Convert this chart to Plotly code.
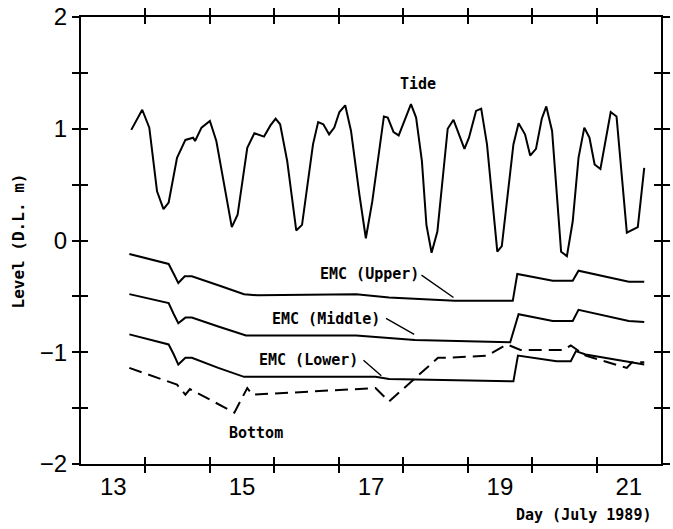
import plotly.graph_objects as go

# ---- data (day of July 1989, level in D.L. m) ----
tide_x = [13.78, 13.95, 14.06, 14.18, 14.28, 14.36, 14.49, 14.62, 14.74, 14.77, 14.87, 15.00,
          15.10, 15.23, 15.34, 15.43, 15.58, 15.69, 15.84, 15.94, 16.02, 16.09, 16.20, 16.34,
          16.43, 16.60, 16.68, 16.76, 16.85, 16.93, 17.01, 17.10, 17.19, 17.32, 17.42, 17.52,
          17.70, 17.76, 17.85, 17.93, 18.03, 18.12, 18.20, 18.29, 18.36, 18.44, 18.53, 18.69,
          18.78, 18.95, 19.02, 19.13, 19.21, 19.30, 19.46, 19.53, 19.71, 19.79, 19.89, 19.97,
          20.06, 20.15, 20.22, 20.31, 20.45, 20.54, 20.63, 20.72, 20.81, 20.89, 20.97, 21.06,
          21.22, 21.31, 21.47, 21.64, 21.74]
tide_y = [0.99, 1.17, 1.01, 0.44, 0.28, 0.34, 0.74, 0.90, 0.92, 0.89, 1.01, 1.07,
          0.89, 0.47, 0.12, 0.23, 0.83, 0.96, 0.93, 1.03, 1.09, 1.04, 0.71, 0.09,
          0.14, 0.86, 1.06, 1.04, 0.95, 1.01, 1.15, 1.21, 0.98, 0.41, 0.02, 0.35,
          1.11, 1.10, 0.97, 0.94, 1.09, 1.22, 1.10, 0.71, 0.14, -0.11, 0.08, 1.00,
          1.08, 0.82, 0.92, 1.16, 1.18, 0.86, -0.10, -0.05, 0.86, 1.05, 0.95, 0.76,
          0.82, 1.09, 1.20, 0.98, -0.10, -0.14, 0.17, 0.74, 1.01, 0.92, 0.68, 0.64,
          1.15, 1.11, 0.07, 0.12, 0.65]

upper_x = [13.75, 14.36, 14.44, 14.51, 14.61, 14.72, 15.13, 15.53, 15.74, 17.27, 17.78, 18.80,
           19.70, 19.77, 20.32, 20.63, 20.72, 21.50, 21.74]
upper_y = [-0.12, -0.21, -0.30, -0.38, -0.32, -0.32, -0.40, -0.48, -0.49, -0.48, -0.51, -0.54,
           -0.54, -0.30, -0.36, -0.36, -0.27, -0.37, -0.37]

middle_x = [13.75, 14.36, 14.44, 14.51, 14.62, 14.72, 15.13, 15.56, 17.27, 18.18, 19.66, 19.79,
            20.32, 20.63, 20.72, 21.50, 21.74]
middle_y = [-0.48, -0.56, -0.66, -0.74, -0.69, -0.69, -0.77, -0.85, -0.85, -0.89, -0.91, -0.66,
            -0.72, -0.72, -0.62, -0.72, -0.73]

lower_x = [13.75, 14.36, 14.44, 14.51, 14.62, 14.72, 15.13, 15.53, 17.57, 17.78, 19.71, 19.78,
           20.38, 20.60, 20.68, 20.83, 21.74]
lower_y = [-0.84, -0.93, -1.02, -1.11, -1.05, -1.05, -1.14, -1.22, -1.22, -1.24, -1.26, -1.03,
           -1.08, -1.08, -0.99, -1.02, -1.11]

bottom_x = [13.75, 14.49, 14.62, 14.69, 15.38, 15.58, 15.66, 17.57, 17.78, 18.54, 18.69, 19.30,
            19.61, 19.82, 20.48, 20.60, 20.83, 21.47, 21.55, 21.74]
bottom_y = [-1.14, -1.29, -1.38, -1.33, -1.54, -1.32, -1.38, -1.32, -1.44, -1.05, -1.05, -1.03,
            -0.93, -0.98, -0.98, -0.94, -1.03, -1.14, -1.09, -1.09]

xlabel_pos = [13.5, 15.5, 17.5, 19.5, 21.5]
xlabel_text = ["13", "15", "17", "19", "21"]
xtick_pos = [14, 15, 16, 17, 18, 19, 20, 21]
ytick_pos = [-2, -1.5, -1, -0.5, 0, 0.5, 1, 1.5, 2]
ytick_text = ["\u22122", "", "\u22121", "", "0", "", "1", "", "2"]

MONO = "DejaVu Sans Mono"
SANS = "Liberation Sans, Arial"

fig = go.Figure()
line = dict(color="black", width=2)
fig.add_trace(go.Scatter(x=tide_x, y=tide_y, mode="lines", line=line))
fig.add_trace(go.Scatter(x=upper_x, y=upper_y, mode="lines", line=line))
fig.add_trace(go.Scatter(x=middle_x, y=middle_y, mode="lines", line=line))
fig.add_trace(go.Scatter(x=lower_x, y=lower_y, mode="lines", line=line))
fig.add_trace(go.Scatter(x=bottom_x, y=bottom_y, mode="lines",
                         line=dict(color="black", width=2, dash="13px,7px")))
# empty traces to carry the tick-only overlay axes
fig.add_trace(go.Scatter(x=[None], y=[None], xaxis="x2", yaxis="y2", hoverinfo="skip"))
fig.add_trace(go.Scatter(x=[None], y=[None], xaxis="x3", yaxis="y2", hoverinfo="skip"))

common = dict(showgrid=False, zeroline=False, showline=True, linecolor="black", linewidth=2)
tickax = dict(range=[13, 22], tickvals=xtick_pos, showticklabels=False, mirror="allticks",
              ticklen=7, tickwidth=2, tickcolor="black", **common)

fig.update_layout(
    width=673, height=529,
    margin=dict(l=81, r=3, t=15, b=65),
    paper_bgcolor="white", plot_bgcolor="white",
    showlegend=False,
    xaxis=dict(range=[13, 22], tickvals=xlabel_pos, ticktext=xlabel_text, ticks="",
               mirror=True, tickfont=dict(family=SANS, size=24, color="black"), **common),
    xaxis2=dict(overlaying="x", anchor="y", ticks="outside", **tickax),
    xaxis3=dict(overlaying="x", anchor="y", ticks="inside", **tickax),
    yaxis=dict(range=[-2, 2], tickvals=ytick_pos, ticktext=ytick_text, ticks="outside",
               ticklen=7, tickwidth=2, tickcolor="black", mirror="allticks",
               tickfont=dict(family=SANS, size=24, color="black"), **common),
    yaxis2=dict(overlaying="y", anchor="x", range=[-2, 2], tickvals=ytick_pos,
                showticklabels=False, ticks="inside", ticklen=7, tickwidth=2,
                tickcolor="black", mirror="allticks", **common),
)

tfont = dict(family=MONO, size=15, color="black", weight="bold")
notes = [
    ("Tide", 18.23, 1.40),
    ("EMC (Upper)", 17.47, -0.30),
    ("EMC (Middle)", 16.80, -0.70),
    ("EMC (Lower)", 16.53, -1.07),
    ("Bottom", 15.71, -1.72),
]
for txt, x, y in notes:
    fig.add_annotation(x=x, y=y, text=txt, showarrow=False, font=tfont,
                       xanchor="center", yanchor="middle")

leaders = [
    ((18.26, -0.30), (18.78, -0.51)),
    ((17.71, -0.69), (18.17, -0.84)),
    ((17.36, -1.06), (17.66, -1.21)),
]
for (tx, ty), (hx, hy) in leaders:
    fig.add_annotation(x=hx, y=hy, ax=tx, ay=ty, axref="x", ayref="y", text="",
                       showarrow=True, arrowhead=0, arrowwidth=1.4, arrowcolor="black")

fig.add_annotation(text="Level (D.L. m)", xref="paper", yref="paper", x=-0.107, y=0.5,
                   textangle=-90, showarrow=False,
                   font=dict(family=MONO, size=16, color="black", weight="bold"),
                   xanchor="center", yanchor="middle")
fig.add_annotation(text="Day (July 1989)", xref="paper", yref="paper", x=0.986, y=-0.114,
                   showarrow=False, font=tfont, xanchor="right", yanchor="middle")

fig.write_html("out.html")
